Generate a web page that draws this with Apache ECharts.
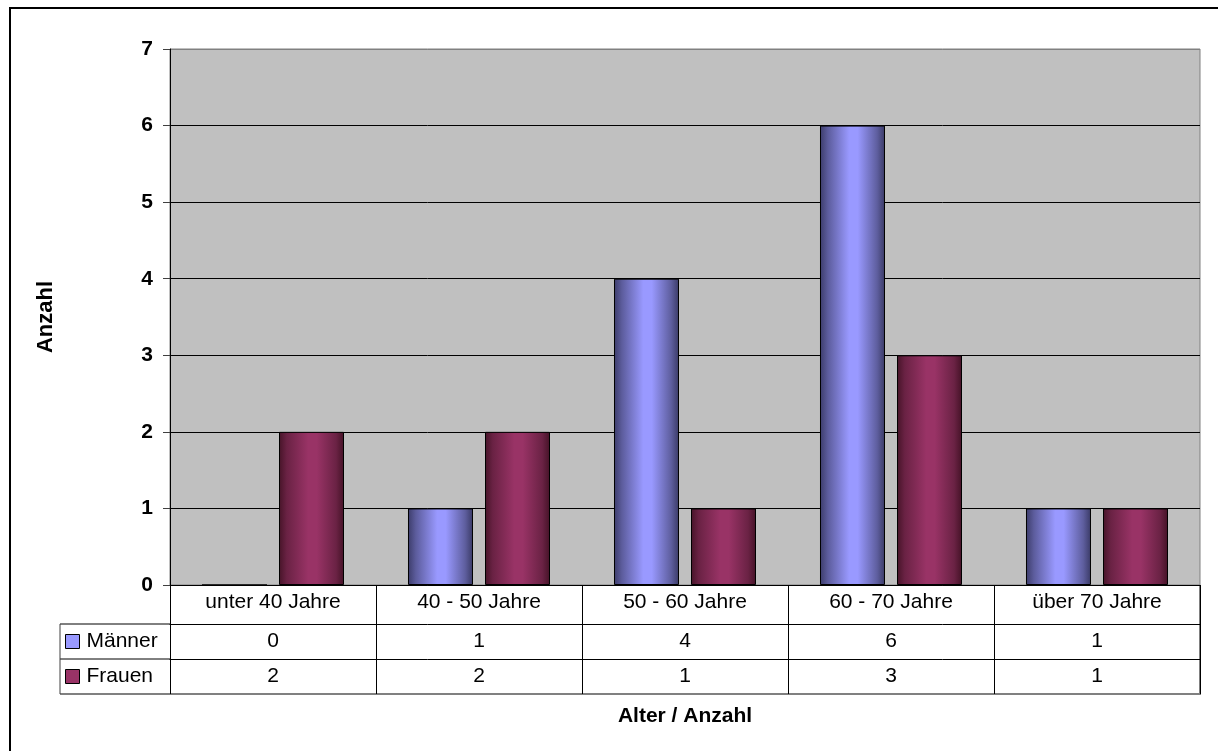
<!DOCTYPE html>
<html>
<head>
<meta charset="utf-8">
<script src="https://cdn.jsdelivr.net/npm/echarts@6/dist/echarts.min.js"></script>
<style>
html,body{margin:0;padding:0;background:#fff;}
#chart{width:1218px;height:751px;}
</style>
</head>
<body>
<div id="chart"></div>
<script>
const categories = ['unter 40 Jahre', '40 - 50 Jahre', '50 - 60 Jahre', '60 - 70 Jahre', 'über 70 Jahre'];
const maenner = [0, 1, 4, 6, 1];
const frauen = [2, 2, 1, 3, 1];
const seriesNames = ['Männer', 'Frauen'];
const yTicks = [0, 1, 2, 3, 4, 5, 6, 7];
const xTitle = 'Alter / Anzahl';
const yTitle = 'Anzahl';

const FONT = 'Arial, "Liberation Sans", sans-serif';
const FS = 21;
const chart = echarts.init(document.getElementById('chart'), null, {renderer: 'canvas'});

const blueGrad = new echarts.graphic.LinearGradient(0, 0, 1, 0, [
  {offset: 0, color: '#3c3c6a'},
  {offset: 0.12, color: '#5c5c9c'},
  {offset: 0.45, color: '#9999ff'},
  {offset: 0.58, color: '#9999ff'},
  {offset: 0.88, color: '#5e5e9e'},
  {offset: 1, color: '#3a3a66'}
]);
const redGrad = new echarts.graphic.LinearGradient(0, 0, 1, 0, [
  {offset: 0, color: '#461428'},
  {offset: 0.12, color: '#6a2244'},
  {offset: 0.45, color: '#993366'},
  {offset: 0.58, color: '#993366'},
  {offset: 0.88, color: '#6a2244'},
  {offset: 1, color: '#441226'}
]);

const rowLabel = (arr) => (v, i) => String(arr[i]);
const lineStyle = (c, w) => ({stroke: c, lineWidth: w});

chart.setOption({
  animation: false,
  backgroundColor: '#ffffff',
  textStyle: {fontFamily: FONT},
  legend: {
    orient: 'vertical',
    left: 65, top: 624,
    padding: 0,
    itemGap: 0,
    itemWidth: 14, itemHeight: 14,
    icon: 'rect',
    selectedMode: false,
    textStyle: {fontFamily: FONT, fontSize: FS, color: '#000', lineHeight: 35, padding: [0, 0, 0, 2]},
    data: [
      {name: seriesNames[0], itemStyle: {color: '#9999ff', borderColor: '#000', borderWidth: 1}},
      {name: seriesNames[1], itemStyle: {color: '#993366', borderColor: '#000', borderWidth: 1}}
    ]
  },
  grid: {
    left: 170, right: 18, top: 49, bottom: 166,
    show: true, backgroundColor: '#c0c0c0', borderColor: '#808080', borderWidth: 1
  },
  xAxis: [
    {
      type: 'category', data: categories, position: 'bottom',
      axisLine: {show: true, lineStyle: {color: '#000', width: 1}},
      axisTick: {show: true, length: 109, lineStyle: {color: '#000'}},
      axisLabel: {margin: 7, fontSize: FS, lineHeight: 21, color: '#000', fontFamily: FONT, interval: 0},
      splitLine: {show: false}
    },
    {
      type: 'category', data: categories, position: 'bottom', offset: 39,
      axisLine: {show: true, lineStyle: {color: '#000', width: 1}},
      axisTick: {show: false},
      axisLabel: {margin: 7, fontSize: FS, lineHeight: 21, color: '#000', fontFamily: FONT, interval: 0, formatter: rowLabel(maenner)}
    },
    {
      type: 'category', data: categories, position: 'bottom', offset: 74,
      axisLine: {show: true, lineStyle: {color: '#000', width: 1}},
      axisTick: {show: false},
      axisLabel: {margin: 7, fontSize: FS, lineHeight: 21, color: '#000', fontFamily: FONT, interval: 0, formatter: rowLabel(frauen)}
    },
    {
      type: 'category', data: categories, position: 'bottom', offset: 109,
      axisLine: {show: true, lineStyle: {color: '#808080', width: 2}},
      axisTick: {show: false},
      axisLabel: {show: false},
      name: xTitle, nameLocation: 'middle', nameGap: 11,
      nameTextStyle: {fontFamily: FONT, fontSize: FS, fontWeight: 'bold', color: '#000', lineHeight: 22}
    }
  ],
  yAxis: {
    type: 'value', min: yTicks[0], max: yTicks[yTicks.length - 1], interval: 1,
    name: yTitle, nameLocation: 'middle', nameRotate: 90, nameGap: 113,
    nameTextStyle: {fontFamily: FONT, fontSize: 22, fontWeight: 'bold', color: '#000'},
    axisLine: {show: true, lineStyle: {color: '#000', width: 1}},
    axisTick: {show: true, length: 7, lineStyle: {color: '#404040'}},
    axisLabel: {margin: 17, fontSize: FS, fontWeight: 'bold', color: '#000', fontFamily: FONT},
    splitLine: {show: true, lineStyle: {color: ['#000', '#000', '#000', '#000', '#000', '#000', '#000', '#808080'], width: 1}}
  },
  series: [
    {
      name: seriesNames[0], type: 'bar', data: maenner, xAxisIndex: 0,
      barWidth: 65, barGap: '18.5%',
      itemStyle: {color: blueGrad, borderColor: '#000', borderWidth: 1}
    },
    {
      name: seriesNames[1], type: 'bar', data: frauen, xAxisIndex: 0,
      barWidth: 65, barGap: '18.5%',
      itemStyle: {color: redGrad, borderColor: '#000', borderWidth: 1}
    }
  ],
  graphic: [
    {type: 'rect', shape: {x: 10, y: 8, width: 1400, height: 900}, style: {fill: 'none', stroke: '#000', lineWidth: 2}, silent: true},
    {type: 'line', shape: {x1: 60, y1: 624, x2: 170, y2: 624}, style: lineStyle('#000', 1), silent: true},
    {type: 'line', shape: {x1: 60, y1: 659, x2: 170, y2: 659}, style: lineStyle('#000', 1), silent: true},
    {type: 'line', shape: {x1: 60, y1: 694, x2: 170, y2: 694}, style: lineStyle('#808080', 2), silent: true},
    {type: 'line', shape: {x1: 60, y1: 624, x2: 60, y2: 694}, style: lineStyle('#404040', 1), silent: true},
    {type: 'line', shape: {x1: 1200, y1: 585, x2: 1200, y2: 695}, style: lineStyle('#808080', 2), silent: true}
  ]
});
</script>
</body>
</html>
